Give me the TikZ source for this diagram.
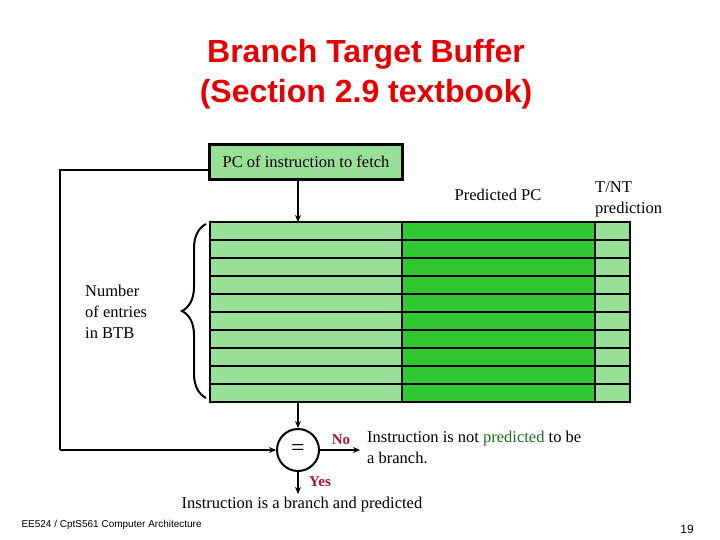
\documentclass[tikz,border=0pt]{standalone}
\usepackage{fontspec}
\setmainfont{Liberation Serif}
\newfontfamily\arial{Liberation Sans}
\usetikzlibrary{arrows.meta,decorations.pathreplacing}
\definecolor{lg}{RGB}{152,224,152}
\definecolor{dg}{RGB}{50,200,50}
\definecolor{ttl}{RGB}{230,0,0}
\definecolor{lbl}{RGB}{170,20,50}
\definecolor{txg}{RGB}{30,110,30}
\begin{document}
\begin{tikzpicture}[x=1pt,y=-1pt,
  txt/.style={font=\fontsize{16.5}{21}\selectfont,inner sep=0pt},
  ln/.style={line width=2.2pt},
  arr/.style={line width=1.5pt,-{Stealth[length=7pt,width=6pt]}}]
\useasboundingbox (0,0) rectangle (720,540);
\node[font=\arial\bfseries\fontsize{32}{40}\selectfont,text=ttl,align=center] (t) at (366,74) {Branch Target Buffer\\(Section 2.9 textbook)};
\node[draw,ln,fill=lg,txt,inner sep=0pt,minimum height=35pt,minimum width=193pt] (pc) at (306,162) {PC of instruction to fetch};
\foreach \i in {0,...,9}{
  \draw[ln,fill=lg] (210,222+18*\i) rectangle (402,240+18*\i);
  \draw[ln,fill=dg] (402,222+18*\i) rectangle (595,240+18*\i);
  \draw[ln,fill=lg] (595,222+18*\i) rectangle (630,240+18*\i);
}
\coordinate (ttop) at (298,222);
\coordinate (tbot) at (298,402);
\node[draw,circle,line width=2pt,minimum size=42pt,inner sep=0pt,font=\fontsize{24}{24}\selectfont] (eq) at (298,450) {=};
\draw[arr] (pc.south -| ttop) -- (ttop);
\draw[arr] (tbot) -- (eq.north);
\coordinate (c1) at (60,170);
\coordinate (c2) at (60,450);
\draw[line width=2pt] (pc.west |- c1) -- (c1) -- (c2);
\draw[arr] (c2) -- (eq.west);
\coordinate (no) at (360,450);
\coordinate (yes) at (298,494);
\draw[arr] (eq.east) -- (no);
\draw[arr] (eq.south) -- (yes);
\node[txt,text=lbl,font=\bfseries\fontsize{15}{17}\selectfont] (nol) at (341,440) {No};
\node[txt,text=lbl,font=\bfseries\fontsize{15}{17}\selectfont] (yesl) at (320,482) {Yes};
\node[txt,anchor=north west,align=left] (nt) at (367,431) {Instruction is not \textcolor{txg}{predicted} to be\\a branch.};
\node[txt,anchor=north] (yt) at (302,497) {Instruction is a branch and predicted};
\node[txt] (ppc) at (498,195) {Predicted PC};
\node[txt,align=left,anchor=west] (tnt) at (595,199) {T/NT\\prediction};
\node[txt,align=left,anchor=west] (ne) at (85,312) {Number\\of entries\\in BTB};
\draw[line width=2pt,decorate,decoration={brace,amplitude=24pt,aspect=0.5}] (206,398) -- (206,224);
\node[font=\arial\fontsize{10}{10}\selectfont,anchor=west] (ft) at (18,525) {EE524 / CptS561 Computer Architecture};
\node[font=\arial\fontsize{12}{12}\selectfont] (pg) at (687,529) {19};
\end{tikzpicture}
\end{document}
